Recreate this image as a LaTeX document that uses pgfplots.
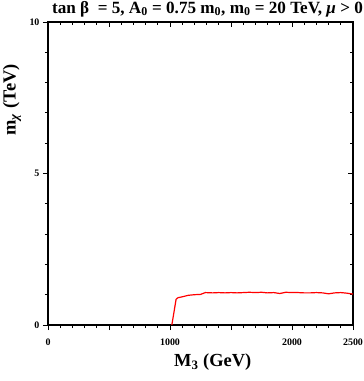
\documentclass[border=0pt]{standalone}
\usepackage{fontspec}
\setmainfont{Liberation Serif}
\usepackage{pgfplots}
\pgfplotsset{compat=1.18}

\begin{document}
\begin{tikzpicture}
\useasboundingbox (-48bp,-56bp) rectangle (316bp,325bp);
\pgfplotsset{
  frame/.style={
    at={(0,0)}, anchor=south west,
    scale only axis, width=305bp, height=303bp,
    xmin=0, xmax=2500, ymin=0, ymax=10,
    xtick={0,500,...,2500}, ytick={0,5,10},
    minor x tick num=4, minor y tick num=4,
    major tick length=5bp, minor tick length=3bp,
    every tick/.style={black, line width=0.8bp},
    axis line style={line width=1.5bp},
  }
}
% inward ticks on top and right
\begin{axis}[frame,
    xtick pos=right, ytick pos=right, tick align=inside,
    xticklabels={}, yticklabels={}]
\end{axis}
\begin{axis}[frame,
    xtick pos=left, ytick pos=left, tick align=outside,
    xticklabels={0,,1000,,2000,2500},
    /pgf/number format/assume math mode=true,
    tick label style={font=\bfseries\fontsize{10}{11}\selectfont},
    xticklabel style={yshift=-5bp},
    xlabel={M\textsubscript{3} (GeV)},
    ylabel={m\textsubscript{\textit{χ}} (TeV)},
    label style={font=\bfseries\fontsize{18.5}{20}\selectfont},
    xlabel style={at={(axis description cs:0.54,-0.122)}, anchor=center},
    ylabel style={at={(axis description cs:-0.118,0.743)}, anchor=center},
    every axis title shift=0pt,
    title={tan β\ \ = 5, A\textsubscript{0} = 0.75 m\textsubscript{0}, m\textsubscript{0} = 20 TeV, \textit{μ} > 0},
    title style={font=\bfseries\fontsize{17.2}{18}\selectfont,
      at={(axis description cs:0.523,1.043)}, anchor=center, yshift=0pt},
  ]
\addplot[red, line width=1.2bp] coordinates {
  (1015,0) (1050,0.85) (1065,0.90) (1100,0.93) (1150,0.98) (1200,1.00)
  (1250,1.01) (1290,1.07) (1350,1.06) (1400,1.07) (1450,1.06) (1500,1.07)
  (1550,1.06) (1600,1.07) (1650,1.08) (1700,1.07) (1750,1.08) (1800,1.06)
  (1850,1.07) (1900,1.04) (1950,1.08) (2000,1.07) (2050,1.07) (2100,1.06)
  (2150,1.06) (2200,1.07) (2250,1.06) (2300,1.03) (2350,1.06) (2400,1.07)
  (2450,1.05) (2500,1.02)
};
\end{axis}
\end{tikzpicture}
\end{document}
